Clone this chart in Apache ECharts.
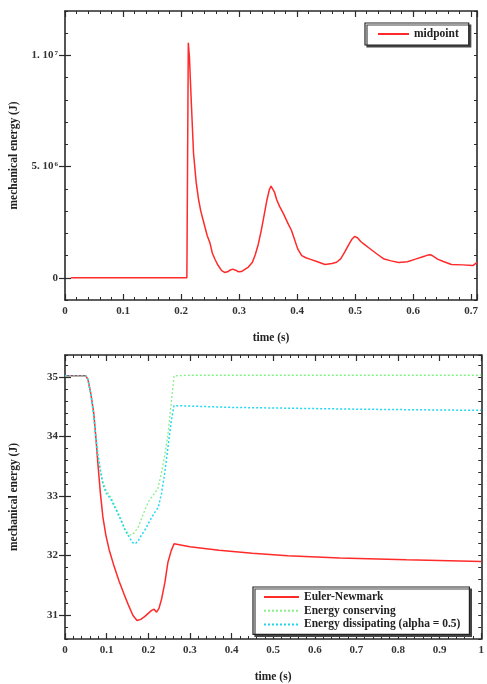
<!DOCTYPE html>
<html>
<head>
<meta charset="utf-8">
<script src="https://cdn.jsdelivr.net/npm/echarts@6/dist/echarts.min.js"></script>
<style>
  html, body { margin: 0; padding: 0; background: #fff; }
  #chart { width: 487px; height: 684px; }
</style>
</head>
<body>
<div id="chart"></div>
<script>
// top panel: midpoint scheme
var midT = [0.01, 0.21, 0.2125, 0.2145, 0.2175, 0.2215, 0.226, 0.23, 0.234, 0.238, 0.245, 0.25, 0.254, 0.259, 0.264, 0.27, 0.275, 0.28, 0.285, 0.289, 0.294, 0.299, 0.304, 0.31, 0.316, 0.323, 0.328, 0.333, 0.338, 0.343, 0.348, 0.352, 0.355, 0.358, 0.361, 0.365, 0.37, 0.377, 0.385, 0.39, 0.394, 0.401, 0.408, 0.415, 0.422, 0.435, 0.448, 0.46, 0.468, 0.475, 0.482, 0.488, 0.494, 0.499, 0.504, 0.51, 0.517, 0.524, 0.537, 0.55, 0.562, 0.575, 0.59, 0.604, 0.618, 0.625, 0.63, 0.635, 0.642, 0.652, 0.666, 0.685, 0.703, 0.71];
var midE = [0, 0, 10570000, 9900000, 8000000, 5600000, 4300000, 3550000, 3000000, 2600000, 1900000, 1550000, 1100000, 800000, 550000, 320000, 240000, 270000, 350000, 390000, 340000, 270000, 280000, 380000, 480000, 700000, 1050000, 1500000, 2100000, 2800000, 3500000, 3950000, 4120000, 4080000, 3850000, 3500000, 3200000, 2850000, 2400000, 2150000, 1850000, 1300000, 1000000, 900000, 840000, 720000, 600000, 640000, 700000, 850000, 1150000, 1450000, 1720000, 1860000, 1800000, 1620000, 1480000, 1340000, 1080000, 840000, 760000, 690000, 720000, 840000, 960000, 1020000, 1040000, 960000, 840000, 730000, 600000, 580000, 550000, 690000];

// bottom panel
var eulerT = [0, 0.05, 0.055, 0.062, 0.069, 0.074, 0.079, 0.085, 0.091, 0.098, 0.106, 0.118, 0.13, 0.142, 0.153, 0.163, 0.173, 0.182, 0.192, 0.2, 0.208, 0.214, 0.22, 0.226, 0.232, 0.24, 0.247, 0.255, 0.262, 0.3, 0.37, 0.45, 0.535, 0.66, 0.82, 1.0];
var eulerE = [35.02, 35.02, 34.96, 34.72, 34.4, 34.0, 33.55, 33.05, 32.65, 32.35, 32.1, 31.82, 31.57, 31.35, 31.16, 31.0, 30.91, 30.93, 30.98, 31.03, 31.08, 31.1, 31.05, 31.12, 31.27, 31.55, 31.88, 32.08, 32.2, 32.15, 32.09, 32.04, 32.0, 31.96, 31.93, 31.9];

var consT = [0, 0.05, 0.055, 0.062, 0.069, 0.074, 0.079, 0.085, 0.091, 0.099, 0.11, 0.122, 0.134, 0.145, 0.155, 0.161, 0.168, 0.176, 0.188, 0.2, 0.212, 0.223, 0.232, 0.24, 0.247, 0.255, 0.262, 0.3, 1.0];
var consE = [35.02, 35.02, 34.96, 34.72, 34.35, 34.0, 33.7, 33.45, 33.25, 33.09, 32.98, 32.81, 32.62, 32.43, 32.35, 32.35, 32.4, 32.48, 32.7, 32.9, 33.02, 33.12, 33.4, 33.7, 34.02, 34.55, 35.02, 35.03, 35.03];

var dissT = [0, 0.05, 0.055, 0.062, 0.069, 0.074, 0.079, 0.085, 0.091, 0.099, 0.11, 0.122, 0.134, 0.145, 0.155, 0.162, 0.169, 0.176, 0.184, 0.192, 0.205, 0.215, 0.224, 0.232, 0.239, 0.247, 0.255, 0.262, 0.4, 0.7, 1.0];
var dissE = [35.02, 35.02, 34.96, 34.72, 34.35, 34.0, 33.7, 33.42, 33.2, 33.05, 32.95, 32.78, 32.6, 32.42, 32.3, 32.22, 32.2, 32.25, 32.35, 32.43, 32.6, 32.72, 32.81, 33.05, 33.36, 33.8, 34.25, 34.52, 34.49, 34.46, 34.44];

var topMajorTicks = [0, 5000000, 10000000];
var bottomMajorTicks = [31, 32, 33, 34, 35];

var FONT = 'Liberation Serif';
var FRAME = '#2a2a2a';

function pairs(xs, ys) {
    return xs.map(function (x, i) { return [x, ys[i]]; });
}

function xAxisCfg(grid, pos, max, showLabels) {
    return {
        type: 'value', gridIndex: grid, position: pos, min: 0, max: max, interval: 0.1,
        axisLine: { show: true, onZero: false, lineStyle: { color: FRAME, width: 1.6 } },
        axisTick: { show: true, inside: true, length: 6, lineStyle: { color: FRAME, width: 1.2 } },
        minorTick: { show: true, splitNumber: 5, length: 3, lineStyle: { color: FRAME, width: 1 } },
        splitLine: { show: false },
        axisLabel: {
            show: showLabels, margin: 6, fontFamily: FONT, fontWeight: 'bold', fontSize: 11, color: '#333',
            formatter: function (v) {
                var r = Math.round(v * 10) / 10;
                if (Math.abs(v - r) > 1e-6) return '';
                return r === 0 ? '0' : (r === 1 ? '1' : r.toFixed(1));
            }
        }
    };
}

function yMinorCfg(grid, pos, min, max, step, fmt) {
    return {
        type: 'value', gridIndex: grid, position: pos, min: min, max: max, interval: step,
        axisLine: { show: true, onZero: false, lineStyle: { color: FRAME, width: 1.6 } },
        axisTick: { show: true, inside: true, length: 3, lineStyle: { color: FRAME, width: 1 } },
        splitLine: { show: false },
        axisLabel: fmt ? {
            show: true, margin: 7, fontFamily: FONT, fontWeight: 'bold', fontSize: 11, color: '#333',
            formatter: fmt,
            rich: {
                b: { fontFamily: FONT, fontWeight: 'bold', fontSize: 11, color: '#333', lineHeight: 12 },
                s: { fontFamily: FONT, fontWeight: 'bold', fontSize: 7, color: '#333', verticalAlign: 'top', lineHeight: 12, padding: [0, 0, 5, 1] }
            }
        } : { show: false }
    };
}

function yMajorCfg(grid, pos, min, max, ticks) {
    return {
        type: 'value', gridIndex: grid, position: pos, min: min, max: max,
        axisLine: { show: false },
        axisTick: { show: true, inside: true, length: 6, customValues: ticks, lineStyle: { color: FRAME, width: 1.2 } },
        splitLine: { show: false },
        axisLabel: { show: false }
    };
}

function topLabel(v) {
    if (Math.abs(v) < 1) return '{b|0}';
    if (Math.abs(v - 5000000) < 1) return '{b|5. 10}{s|6}';
    if (Math.abs(v - 10000000) < 1) return '{b|1. 10}{s|7}';
    return '';
}

function bottomLabel(v) {
    var r = Math.round(v);
    if (Math.abs(v - r) > 1e-6) return '';
    return '{b|' + r + '}';
}

var chart = echarts.init(document.getElementById('chart'));

var axisNameStyle = { fontFamily: FONT, fontWeight: 'bold', fontSize: 11.5, color: '#222' };

var xAxes = [
    xAxisCfg(0, 'bottom', 0.71, true),
    xAxisCfg(0, 'top', 0.71, false),
    xAxisCfg(1, 'bottom', 1, true),
    xAxisCfg(1, 'top', 1, false)
];
[0, 2].forEach(function (i) {
    xAxes[i].name = 'time (s)';
    xAxes[i].nameLocation = 'middle';
    xAxes[i].nameGap = 32;
    xAxes[i].nameTextStyle = axisNameStyle;
});

var yAxes = [
    yMinorCfg(0, 'left', -1000000, 12000000, 1000000, topLabel),
    yMajorCfg(0, 'left', -1000000, 12000000, topMajorTicks),
    yMinorCfg(0, 'right', -1000000, 12000000, 1000000, null),
    yMajorCfg(0, 'right', -1000000, 12000000, topMajorTicks),
    yMinorCfg(1, 'left', 30.6, 35.37, 0.2, bottomLabel),
    yMajorCfg(1, 'left', 30.6, 35.37, bottomMajorTicks),
    yMinorCfg(1, 'right', 30.6, 35.37, 0.2, null),
    yMajorCfg(1, 'right', 30.6, 35.37, bottomMajorTicks)
];
[0, 4].forEach(function (i) {
    yAxes[i].name = 'mechanical energy (J)';
    yAxes[i].nameLocation = 'middle';
    yAxes[i].nameRotate = 90;
    yAxes[i].nameGap = 45;
    yAxes[i].nameTextStyle = axisNameStyle;
});

var legendText = { fontFamily: FONT, fontWeight: 'bold', fontSize: 11.5, lineHeight: 11, color: '#222' };
var legendBox = {
    backgroundColor: '#fff', borderColor: '#222', borderWidth: 1.2,
    shadowColor: '#444', shadowOffsetX: 2, shadowOffsetY: 2, shadowBlur: 0,
    itemStyle: { opacity: 0 }
};

var option = {
    animation: false,
    backgroundColor: '#fff',
    grid: [
        { left: 58, top: 11, right: 10, bottom: 384 },
        { left: 58, top: 355, right: 2, bottom: 41 }
    ],
    xAxis: xAxes,
    yAxis: yAxes,
    legend: [
        Object.assign({
            data: ['midpoint'], left: 365, top: 23, orient: 'vertical',
            itemWidth: 31, itemHeight: 11, itemGap: 2, padding: [5, 10, 5, 12],
            textStyle: legendText
        }, legendBox),
        Object.assign({
            data: ['Euler-Newmark', 'Energy conserving', 'Energy dissipating (alpha = 0.5)'],
            left: 253, top: 587, orient: 'vertical',
            itemWidth: 35, itemHeight: 11, itemGap: 1.7, padding: [4, 9, 4, 10],
            textStyle: legendText
        }, legendBox)
    ],
    series: [
        {
            name: 'midpoint', type: 'line', xAxisIndex: 0, yAxisIndex: 0,
            data: pairs(midT, midE), showSymbol: false, symbol: 'none',
            lineStyle: { color: '#ff2a2a', width: 1.5 }, itemStyle: { color: '#ff2a2a' }
        },
        {
            name: 'Euler-Newmark', type: 'line', xAxisIndex: 2, yAxisIndex: 4,
            data: pairs(eulerT, eulerE), showSymbol: false, symbol: 'none',
            lineStyle: { color: '#ff2a2a', width: 1.5 }, itemStyle: { color: '#ff2a2a' }
        },
        {
            name: 'Energy conserving', type: 'line', xAxisIndex: 2, yAxisIndex: 4,
            data: pairs(consT, consE), showSymbol: false, symbol: 'none',
            lineStyle: { color: '#88f088', width: 1.3, type: [2, 2] }, itemStyle: { color: '#88f088' }
        },
        {
            name: 'Energy dissipating (alpha = 0.5)', type: 'line', xAxisIndex: 2, yAxisIndex: 4,
            data: pairs(dissT, dissE), showSymbol: false, symbol: 'none',
            lineStyle: { color: '#22d8f0', width: 1.5, type: [2, 2] }, itemStyle: { color: '#22d8f0' }
        }
    ]
};

chart.setOption(option);
</script>
</body>
</html>
